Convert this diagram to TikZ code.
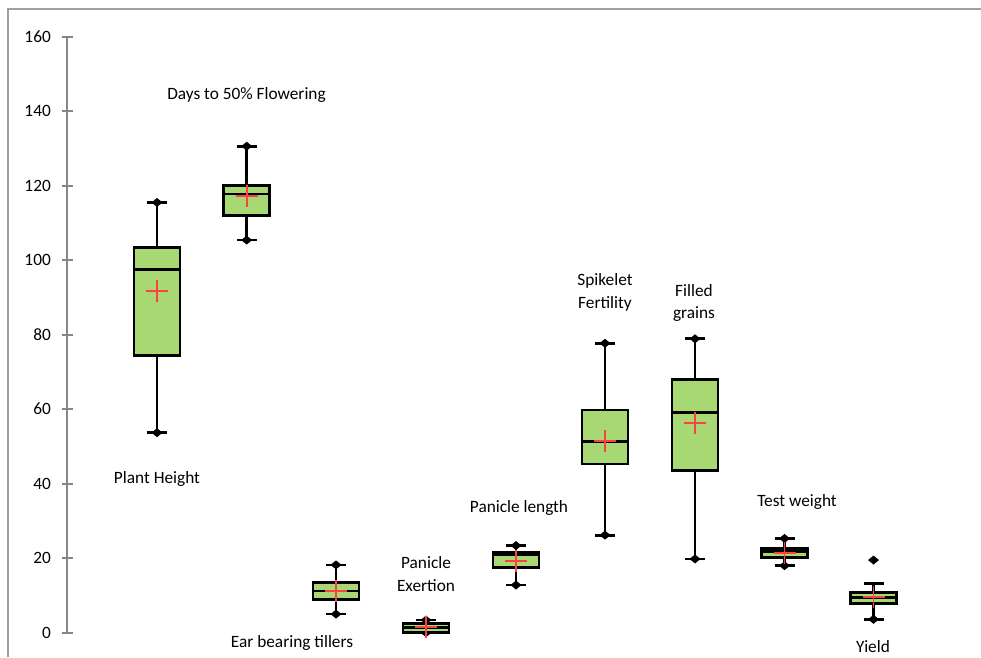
\documentclass[tikz,border=0pt]{standalone}
\usepackage{fontspec}
\setmainfont{Carlito}
\definecolor{boxgreen}{RGB}{168,216,115}
\definecolor{axisgray}{RGB}{134,134,134}
\definecolor{framegray}{RGB}{160,160,160}
\definecolor{meanred}{RGB}{255,64,64}
\tikzset{
  whisk/.style={line width=2.8pt,black},
  boxline/.style={line width=2.8pt,black,fill=boxgreen},
  meanmark/.style={line width=1.8pt,meanred},
  lbl/.style={font=\fontsize{17.3}{22.5}\selectfont,align=center,inner sep=0pt,text height=0.7em,text depth=0.2em},
  ticklbl/.style={font=\fontsize{17.3}{20}\selectfont,anchor=east,inner sep=0pt},
}
\newcommand\vy[1]{632.7-3.725*(#1)}
\newcommand\dmd[2]{\fill[black] ({#1},{#2}) +(-5.5,0) -- +(0,-4.5) -- +(5.5,0) -- +(0,4.5) -- cycle;}
% x, lo, q1, med, q3, hi, mean, topdiamond
\newcommand\bxp[8]{%
  \pgfmathsetmacro\ya{632.7-3.725*(#2)}%
  \pgfmathsetmacro\yb{632.7-3.725*(#3)}%
  \pgfmathsetmacro\yc{632.7-3.725*(#4)}%
  \pgfmathsetmacro\yd{632.7-3.725*(#5)}%
  \pgfmathsetmacro\ye{632.7-3.725*(#6)}%
  \pgfmathsetmacro\yf{632.7-3.725*(#7)}%
  \draw[whisk] (#1,\ya) -- (#1,\yb);
  \draw[whisk] (#1,\yd) -- (#1,\ye);
  \draw[whisk] ({#1-10},\ya) -- ({#1+10},\ya);
  \draw[whisk] ({#1-10},\ye) -- ({#1+10},\ye);
  \dmd{#1}{\ya}
  \ifnum#8=1 \dmd{#1}{\ye}\fi
  \draw[boxline] ({#1-23},\yb) rectangle ({#1+23},\yd);
  \draw[whisk] ({#1-23},\yc) -- ({#1+23},\yc);
  \draw[meanmark] ({#1-11},\yf) -- ({#1+11},\yf);
  \draw[meanmark] (#1,{\yf-11}) -- (#1,{\yf+11});
}
\begin{document}
\begin{tikzpicture}[x=1pt,y=-1pt]
\useasboundingbox (0,0) rectangle (981,657);
\fill[white] (0,0) rectangle (981,657);
% frame
\draw[framegray,line width=1.5pt] (8,657) -- (8,9) -- (981,9);
% axis
\draw[axisgray,line width=2pt] (67,{\vy{160}}) -- (67,{\vy{0}});
\foreach \v [count=\i] in {0,20,...,160}{
  \draw[axisgray,line width=2pt] (61.5,{\vy{\v}}) -- (73,{\vy{\v}});
  \node[ticklbl] (t\i) at (51,{\vy{\v}}) {\v};
}
% boxes
\bxp{157}{53.7}{74.4}{97.6}{103.5}{115.5}{91.8}{1}
\bxp{246.7}{105.4}{112.1}{117.8}{120}{130.6}{117.2}{1}
\bxp{336}{5.0}{9.0}{11.2}{13.5}{18.2}{11.2}{1}
\bxp{426}{0}{0}{1.45}{2.5}{3.4}{1.6}{1}
\bxp{516}{12.8}{17.6}{21.0}{21.5}{23.4}{19.3}{1}
\bxp{605}{26.2}{45.3}{51.3}{59.8}{77.7}{51.5}{1}
\bxp{695}{19.8}{43.5}{59.2}{67.9}{78.9}{56.4}{1}
\bxp{784.5}{18.0}{20.1}{21.7}{22.7}{25.3}{21.3}{1}
\bxp{873.5}{3.6}{7.9}{9.4}{10.9}{13.3}{9.6}{0}
\dmd{873.5}{\vy{19.5}}
% labels
\node[lbl] (days) at (246.5,96.5) {Days to 50\% Flowering};
\node[lbl] (ph) at (157,481) {Plant Height};
\node[lbl] (ebt) at (292,645) {Ear bearing tillers};
\node[lbl] (pe) at (426,588.5) {Panicle\\Exertion};
\node[lbl] (pl) at (519,510) {Panicle length};
\node[lbl] (sf) at (605,305.5) {Spikelet\\Fertility};
\node[lbl] (fg) at (694,316) {Filled\\grains};
\node[lbl] (tw) at (797,504) {Test weight};
\node[lbl] (yl) at (873,650) {Yield};
\end{tikzpicture}
\end{document}
